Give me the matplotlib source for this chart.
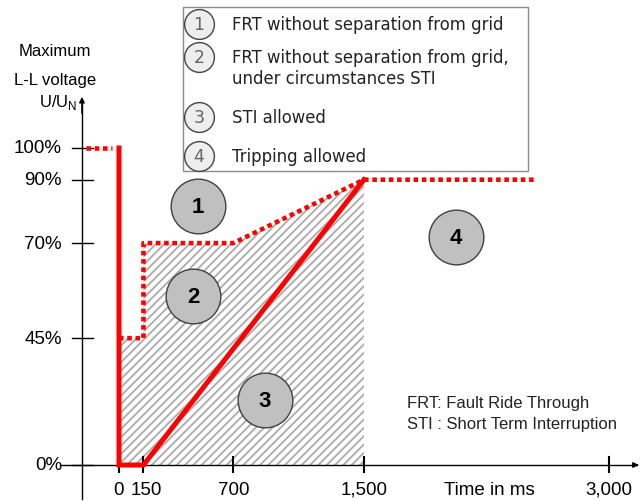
import numpy as np
import matplotlib
matplotlib.use("Agg")
import matplotlib.pyplot as plt
from matplotlib.patches import Rectangle

# ---------------- data ----------------
time_ticks = [0, 150, 700, 1500, 3000]
time_labels = ["0", "150", "700", "1,500", "3,000"]
volt_ticks = [0, 45, 70, 90, 100]
volt_labels = ["0%", "45%", "70%", "90%", "100%"]

# solid FRT limit curve
frt_t = [0, 0, 150, 1500]
frt_u = [100, 0, 0, 90]
# dotted curves
pre_t = [-200, -40]
pre_u = [100, 100]
sti_t = [0, 150, 150, 700, 1500, 2550]
sti_u = [45, 45, 70, 70, 90, 90]
# hatched area (STI allowed)
hatch_t = [0, 0, 150, 150, 700, 1500, 1500]
hatch_u = [0, 45, 45, 70, 70, 90, 0]

# region markers
region_num = ["1", "2", "3", "4"]
region_t = [484, 453, 894, 2064]
region_u = [81.7, 56, 23, 71.9]

legend_num = ["1", "2", "3", "4"]
legend_txt = ["FRT without separation from grid",
              "FRT without separation from grid,\nunder circumstances STI",
              "STI allowed",
              "Tripping allowed"]


# the voltage axis is not linear in the original (45% sits low)
def fwd(v):
    v = np.asarray(v, dtype=float)
    return np.where(v < 45, v * 40 / 45,
                    np.where(v < 70, 40 + (v - 45) * 30 / 25, v))


def inv(p):
    p = np.asarray(p, dtype=float)
    return np.where(p < 40, p * 45 / 40,
                    np.where(p < 70, 45 + (p - 40) * 25 / 30, p))


fig = plt.figure(figsize=(6.42, 5.02), dpi=100)
ax = fig.add_axes([0, 0, 1, 1])
ax.set_yscale("function", functions=(fwd, inv))
ax.set_xlim(-728.7, 3202.7)
ax.set_ylim(float(inv(-11.36)), float(inv(147.0)))
ax.axis("off")

arial = "Liberation Sans"
verdana = "DejaVu Sans"
plt.rcParams["hatch.linewidth"] = 1.3
plt.rcParams["hatch.color"] = "#ababab"

# hatched area
ax.fill(hatch_t, hatch_u, facecolor="white", edgecolor="#ababab",
        hatch="////", linewidth=0, zorder=1)

# axes lines
yax_x = -227
ax.plot([yax_x, yax_x], [-12, 115], color="black", lw=1, zorder=2)
ax.annotate("", xy=(yax_x, 117), xytext=(yax_x, 110),
            arrowprops=dict(arrowstyle="-|>", color="black", lw=1,
                            mutation_scale=8))
ax.plot([-361, 3170], [0, 0], color="black", lw=1, zorder=2)
ax.annotate("", xy=(3200, 0), xytext=(3150, 0),
            arrowprops=dict(arrowstyle="-|>", color="black", lw=1,
                            mutation_scale=8))

# y ticks
for v, lab in zip(volt_ticks, volt_labels):
    ax.plot([-288, -159], [v, v], color="black", lw=1, zorder=2)
    ax.text(-349, v, lab, ha="right", va="center", fontsize=13.5,
            family=arial)

# x ticks
for t, lab in zip(time_ticks, time_labels):
    ax.plot([t, t], [float(inv(-2.2)), float(inv(2.5))], color="black",
            lw=1.5, zorder=4)
    xoff = 15 if t == 150 else 0
    ax.text(t + xoff, float(inv(-7.6)), lab, ha="center", va="center",
            fontsize=13.5, family=arial)
ax.text(2270, float(inv(-7.6)), "Time in ms", ha="center", va="center",
        fontsize=13.5, family=arial)

# y axis title
ax.text(55 / 642, 1 - 52 / 502, "Maximum", transform=ax.transAxes,
        ha="center", va="center", fontsize=12, family=arial)
ax.text(55 / 642, 1 - 80 / 502, "L-L voltage", transform=ax.transAxes,
        ha="center", va="center", fontsize=12, family=arial)
ax.text(58 / 642, 1 - 103 / 502, r"U/U$_\mathregular{N}$",
        transform=ax.transAxes, ha="center", va="center", fontsize=12,
        family=arial)

# red curves
ax.plot(frt_t, frt_u, color="red", lw=3.6, zorder=5,
        solid_joinstyle="miter")
dot = (0, (1, 0.8))
ax.plot(pre_t, pre_u, color="red", lw=3.3, ls=dot, zorder=5,
        dash_capstyle="butt")
ax.plot(sti_t, sti_u, color="red", lw=3.3, ls=dot, zorder=5,
        dash_capstyle="butt")

# region circles
ax.scatter(region_t, region_u, s=1550, facecolor="#c0c0c0",
           edgecolor="#404040", lw=1, zorder=6)
for n, t, u in zip(region_num, region_t, region_u):
    ax.text(t, u, n, ha="center", va="center", fontsize=16,
            fontweight="bold", family=arial, zorder=7)

# legend box
ax.add_patch(Rectangle((183 / 642, 1 - 172 / 502), 345 / 642, 164 / 502,
                       transform=ax.transAxes, facecolor="white",
                       edgecolor="#8c8c8c", lw=1, zorder=3))
leg_y = [25, 58, 118, 157]
txt_y = [25, 68.5, 118, 157]
for n, txt, cy, ty in zip(legend_num, legend_txt, leg_y, txt_y):
    ax.scatter([199 / 642], [1 - cy / 502], s=460, transform=ax.transAxes,
               facecolor="#eeeeee", edgecolor="#444444", lw=1, zorder=4)
    ax.text(199 / 642, 1 - cy / 502, n, transform=ax.transAxes,
            ha="center", va="center", fontsize=12.5, color="#666666",
            family=verdana, zorder=5)
    ax.text(232 / 642, 1 - ty / 502, txt, transform=ax.transAxes,
            ha="left", va="center", fontsize=11.9, color="#222222",
            family=verdana, linespacing=1.25, zorder=5)

# abbreviations
ax.text(407 / 642, 1 - 404 / 502, "FRT: Fault Ride Through",
        transform=ax.transAxes, ha="left", va="center", fontsize=12,
        family=arial, color="#222222")
ax.text(407 / 642, 1 - 424 / 502, "STI : Short Term Interruption",
        transform=ax.transAxes, ha="left", va="center", fontsize=12,
        family=arial, color="#222222")

fig.savefig("out.png", dpi=100)
